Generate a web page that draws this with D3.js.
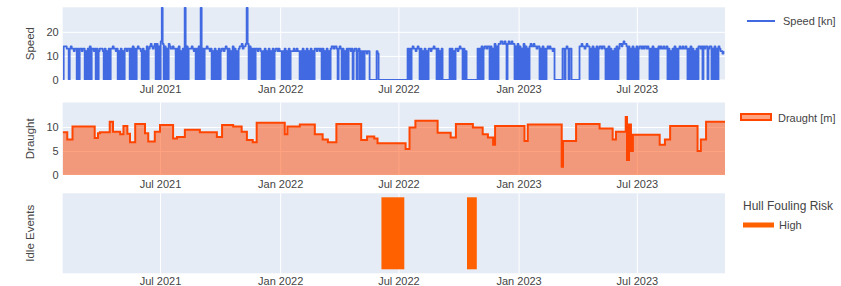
<!DOCTYPE html>
<html>
<head>
<meta charset="utf-8">
<script src="https://cdn.jsdelivr.net/npm/d3@7"></script>
<style>
  html, body { margin: 0; padding: 0; background: #fff; }
  svg { display: block; font-family: "Liberation Sans", Arial, sans-serif; }
</style>
</head>
<body>
<svg id="chart" width="841" height="286"></svg>
<script>
// ---------------- DATA ----------------
const xDomain = ["2021-02-02", "2023-11-13"];
const xTickDates = ["2021-07-01", "2022-01-01", "2022-07-01", "2023-01-01", "2023-07-01"];

// Speed [kn], one sample roughly every 1.53 days from speedStart
const speedStart = "2021-02-02";
const speedStepDays = 1.5305;
const speedValues = [
  0,
  14,14,14,13,13,0,13,14,13,13,12,13,13,
  0,13,0,
  13,13,12,13,13,
  0,12,0,13,0,14,0,
  13,13,12,13,
  0,13,0,12,
  13,13,13,12,
  0,13,0,12,0,13,0,13,
  13,14,13,13,12,13,
  0,12,0,13,0,12,0,13,
  13,12,13,13,
  0,13,0,14,0,13,0,
  13,14,13,13,12,
  0,13,0,12,0,14,0,13,
  14,15,14,13,14,15,
  0,15,0,14,0,16,30,15,0,14,0,13,0,15,
  14,13,13,14,13,13,
  0,13,0,14,0,12,0,13,0,30,0,14,0,13,
  13,13,14,13,12,13,
  0,13,0,14,0,30,0,13,0,
  13,13,14,13,13,12,13,
  0,12,0,13,0,12,0,13,0,12,
  13,13,12,13,14,13,
  0,13,0,12,0,14,0,13,0,12,0,13,
  14,14,15,13,14,14,15,30,
  15,0,14,0,13,0,13,0,
  13,13,12,13,13,12,
  0,12,0,13,0,12,0,13,0,12,0,13,0,
  12,13,13,12,13,12,12,
  0,12,0,13,0,12,0,13,0,12,
  12,12,13,12,12,13,12,12,
  0,12,0,13,0,12,0,13,0,12,0,13,0,12,0,
  13,13,12,13,13,12,13,
  0,13,0,12,0,13,0,12,0,13,
  14,14,13,14,14,13,0,13,14,13,
  0,13,0,12,0,13,0,13,
  13,12,13,0,12,13,13,0,12,13,
  0,12,0,12,0,
  12,12,11,12,12,
  0,0,0,0,0,0,0,
  12,11,0,
  0,0,0,0,0,0,0,0,0,0,0,0,0,0,0,0,0,0,0,0,0,0,0,0,0,0,0,0,
  13,0,13,0,
  13,14,13,13,12,13,14,13,
  0,13,0,12,0,13,0,12,0,13,
  13,12,13,13,14,13,13,
  0,13,0,12,0,13,
  0,0,0,0,0,0,0,
  13,0,13,0,12,0,
  13,13,12,13,14,13,13,
  0,13,0,12,
  0,0,0,0,0,0,0,0,0,0,0,
  13,0,13,0,14,0,13,
  14,14,13,14,14,
  0,14,0,13,0,15,0,14,0,15,
  15,16,16,15,15,16,15,0,15,16,15,15,16,15,15,
  0,14,0,15,0,14,0,13,0,15,0,14,0,13,0,
  14,15,14,14,15,14,14,13,14,14,
  0,13,0,14,0,13,0,13,
  14,13,14,13,13,12,13,
  0,0,0,0,0,0,0,0,
  13,13,0,13,14,13,0,13,13,
  0,0,0,0,0,0,0,0,
  14,14,15,14,14,13,14,15,14,14,
  0,13,0,14,0,13,0,14,0,13,
  14,14,13,14,14,13,
  0,13,0,14,0,13,0,12,0,13,0,14,0,13,
  15,15,14,15,16,15,15,14,
  0,14,0,13,0,14,0,13,0,14,0,13,
  14,14,13,14,13,14,14,13,14,13,
  0,13,0,14,0,13,0,13,0,14,
  13,14,13,13,14,13,13,14,
  0,13,0,12,0,13,0,14,0,13,0,13,
  14,13,13,14,13,13,14,13,
  0,13,0,14,0,13,0,12,0,13,0,14,
  14,13,14,0,14,13,14,14,0,13,14,14,
  0,13,0,14,0,13,0,14,
  13,12,12,11,12
];
const speedTicks = [0, 10, 20];
const speedMax = 30.2;

// Draught [m] change points (step series)
const draughtDates = [
  "2021-02-02","2021-02-09","2021-02-17","2021-03-23","2021-03-28","2021-03-31","2021-04-15","2021-04-20",
  "2021-05-01","2021-05-06","2021-05-12","2021-05-16","2021-05-24","2021-06-08","2021-06-13","2021-06-23",
  "2021-07-01","2021-07-21","2021-07-27","2021-08-08","2021-08-31","2021-09-26","2021-10-04","2021-10-21",
  "2021-11-03","2021-11-11","2021-11-20","2021-11-26","2022-01-08","2022-01-12","2022-01-31","2022-02-23",
  "2022-03-07","2022-03-15","2022-03-28","2022-05-05","2022-05-14","2022-05-25","2022-05-30","2022-07-12",
  "2022-07-18","2022-07-27","2022-08-30","2022-09-19","2022-09-27","2022-10-23","2022-11-07","2022-11-15",
  "2022-11-23","2022-11-26","2023-01-10","2023-01-15","2023-03-08","2023-03-10","2023-03-30","2023-05-05",
  "2023-05-25","2023-05-30","2023-06-14","2023-06-16","2023-06-19","2023-06-22","2023-06-25","2023-08-05",
  "2023-08-13","2023-08-21","2023-10-02","2023-10-07","2023-10-15","2023-11-13"
];
const draughtValues = [
  8.9,7.4,10.1,7.7,8.7,8.9,11.1,9.0,
  8.5,10.2,8.6,6.8,10.6,8.7,7.0,9.0,
  10.4,7.6,7.9,9.4,8.9,7.9,10.4,10.1,
  9.0,7.3,6.8,10.9,8.5,10.1,10.5,8.5,
  7.4,6.8,10.6,7.3,8.0,7.6,6.6,5.4,
  9.9,11.3,8.8,7.8,10.6,9.9,8.5,7.8,
  6.3,10.2,7.1,10.5,1.7,7.1,10.6,9.7,
  7.4,9.0,12.1,3.1,10.5,5.0,8.4,6.3,
  7.4,10.2,5.0,7.4,11.1,11.1
];
const draughtTicks = [0, 5, 10];
const draughtMax = 15.1;

// Idle events (Hull Fouling Risk)
const idleStarts = ["2022-06-05", "2022-10-14"];
const idleEnds   = ["2022-07-10", "2022-10-29"];
const idleRisk   = ["High", "High"];

// ---------------- CHART ----------------
const parse = d3.timeParse("%Y-%m-%d");
const svg = d3.select("#chart");
svg.append("rect").attr("width", 841).attr("height", 286).attr("fill", "#fff");

const X0 = 62.7, X1 = 725;
const x = d3.scaleTime().domain(xDomain.map(parse)).range([X0, X1]);
const panels = {
  speed:   { top: 7.3,   bottom: 80,    pad: 5 },
  draught: { top: 102.5, bottom: 175,   pad: 5 },
  idle:    { top: 193.3, bottom: 273.3, pad: 3.5 }
};
const BG = "#E5ECF6";
const TXT = "#444";
const tickDates = xTickDates.map(parse);

function panelBase(p, id) {
  const g = svg.append("g");
  g.append("rect").attr("x", X0).attr("y", p.top).attr("width", X1 - X0).attr("height", p.bottom - p.top).attr("fill", BG);
  g.append("g").attr("transform", `translate(0,${p.bottom})`)
    .call(d3.axisBottom(x).tickValues(tickDates).tickSize(-(p.bottom - p.top)).tickFormat(""))
    .call(a => { a.select(".domain").remove(); a.selectAll("line").attr("stroke", "#fff").attr("stroke-width", 1); });
  g.append("g").attr("transform", `translate(0,${p.bottom})`)
    .call(d3.axisBottom(x).tickValues(tickDates).tickSize(0).tickPadding(p.pad).tickFormat(d3.timeFormat("%b %Y")))
    .call(a => { a.select(".domain").remove(); a.selectAll("text").attr("fill", TXT).attr("font-size", 11).attr("font-family", "Liberation Sans, Arial, sans-serif"); });
  svg.append("clipPath").attr("id", id).append("rect")
    .attr("x", X0).attr("y", p.top - 1).attr("width", X1 - X0).attr("height", p.bottom - p.top + 1);
  return g;
}

function yAxis(g, y, ticks) {
  g.append("g").attr("transform", `translate(${X0},0)`)
    .call(d3.axisLeft(y).tickValues(ticks).tickSize(-(X1 - X0)).tickFormat(""))
    .call(a => { a.select(".domain").remove(); a.selectAll("line").attr("stroke", "#fff").attr("stroke-width", d => d === 0 ? 2 : 1); });
  g.append("g").attr("transform", `translate(${X0},0)`)
    .call(d3.axisLeft(y).tickValues(ticks).tickSize(0).tickPadding(4))
    .call(a => { a.select(".domain").remove(); a.selectAll("text").attr("fill", TXT).attr("font-size", 11).attr("font-family", "Liberation Sans, Arial, sans-serif"); });
}

function yTitle(text, p) {
  const cy = (p.top + p.bottom) / 2;
  svg.append("text").attr("transform", `translate(34,${cy}) rotate(-90)`)
    .attr("text-anchor", "middle").attr("fill", TXT).attr("font-size", 11.5).text(text);
}

// --- Speed panel
{
  const p = panels.speed;
  const g = panelBase(p, "clipSpeed");
  const y = d3.scaleLinear().domain([0, speedMax]).range([p.bottom, p.top]);
  yAxis(g, y, speedTicks);
  const t0 = parse(speedStart).getTime();
  const pts = speedValues.map((v, i) => ({ t: new Date(t0 + i * speedStepDays * 864e5), v }));
  svg.append("path").datum(pts).attr("clip-path", "url(#clipSpeed)")
    .attr("fill", "none").attr("stroke", "#4169E1").attr("stroke-width", 1.8).attr("stroke-linejoin", "round")
    .attr("d", d3.line().curve(d3.curveStepAfter).x(d => x(d.t)).y(d => y(d.v)));
  yTitle("Speed", p);
  svg.append("line").attr("x1", 747).attr("x2", 775).attr("y1", 21).attr("y2", 21).attr("stroke", "#4169E1").attr("stroke-width", 2);
  svg.append("text").attr("x", 783).attr("y", 25).attr("fill", TXT).attr("font-size", 11).text("Speed [kn]");
}

// --- Draught panel
{
  const p = panels.draught;
  const g = panelBase(p, "clipDraught");
  const y = d3.scaleLinear().domain([0, draughtMax]).range([p.bottom, p.top]);
  yAxis(g, y, draughtTicks);
  const pts = draughtDates.map((d, i) => ({ t: parse(d), v: draughtValues[i] }));
  svg.append("path").datum(pts).attr("clip-path", "url(#clipDraught)")
    .attr("fill", "rgba(255,69,0,0.5)")
    .attr("d", d3.area().curve(d3.curveStepAfter).x(d => x(d.t)).y0(y(0)).y1(d => y(d.v)));
  svg.append("path").datum(pts).attr("clip-path", "url(#clipDraught)")
    .attr("fill", "none").attr("stroke", "#FF4500").attr("stroke-width", 2)
    .attr("d", d3.line().curve(d3.curveStepAfter).x(d => x(d.t)).y(d => y(d.v)));
  yTitle("Draught", p);
  svg.append("rect").attr("x", 741).attr("y", 114).attr("width", 30).attr("height", 6)
    .attr("fill", "rgba(255,69,0,0.5)").attr("stroke", "#FF4500").attr("stroke-width", 2);
  svg.append("text").attr("x", 778).attr("y", 121.5).attr("fill", TXT).attr("font-size", 11).text("Draught [m]");
}

// --- Idle events panel
{
  const p = panels.idle;
  panelBase(p, "clipIdle");
  const yb = d3.scaleBand().domain(["High"]).range([p.bottom, p.top]).paddingInner(0.1).paddingOuter(0.05);
  const ev = idleStarts.map((s, i) => ({ s: parse(s), e: parse(idleEnds[i]), r: idleRisk[i] }));
  svg.append("g").selectAll("rect").data(ev).join("rect")
    .attr("x", d => x(d.s)).attr("width", d => x(d.e) - x(d.s))
    .attr("y", d => yb(d.r)).attr("height", yb.bandwidth())
    .attr("fill", "#FF6100");
  yTitle("Idle Events", p);
  svg.append("text").attr("x", 743).attr("y", 210).attr("fill", TXT).attr("font-size", 12).text("Hull Fouling Risk");
  svg.append("rect").attr("x", 743).attr("y", 222.5).attr("width", 31).attr("height", 5).attr("fill", "#FF6100");
  svg.append("text").attr("x", 779).attr("y", 229).attr("fill", TXT).attr("font-size", 11).text("High");
}
</script>
</body>
</html>
